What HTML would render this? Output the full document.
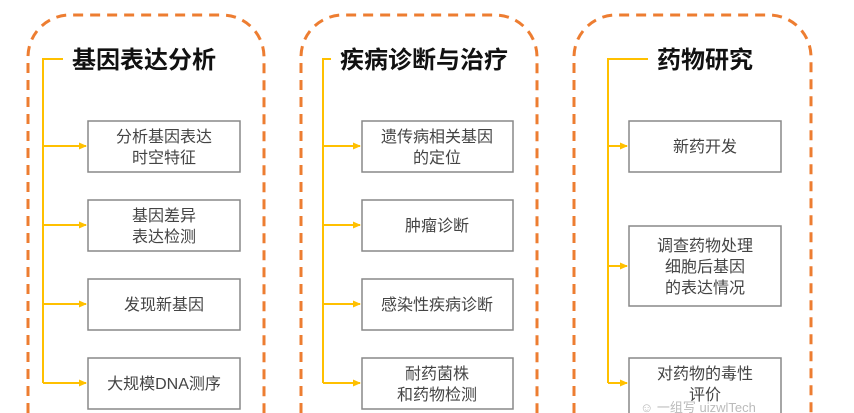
<!DOCTYPE html>
<html><head><meta charset="utf-8"><style>
html,body{margin:0;padding:0;background:#fff;width:854px;height:413px;overflow:hidden}
svg text{font-family:"Liberation Sans","Noto Sans CJK SC",sans-serif}
</style></head><body>
<svg width="854" height="413" viewBox="0 0 854 413" xmlns="http://www.w3.org/2000/svg">
<defs>
<marker id="a" markerWidth="8" markerHeight="8" refX="7" refY="4" orient="auto" markerUnits="userSpaceOnUse"><path d="M0,0.5 L8,4 L0,7.5 z" fill="#FFC000"/></marker>
</defs>
<g fill="none" stroke="#ED7D31" stroke-width="3" stroke-dasharray="10,7">
<path d="M28,430 V57 A42,42 0 0 1 70,15 H222 A42,42 0 0 1 264,57 V430"/>
<path d="M301,430 V57 A42,42 0 0 1 343,15 H495 A42,42 0 0 1 537,57 V430"/>
<path d="M574,430 V57 A42,42 0 0 1 616,15 H769 A42,42 0 0 1 811,57 V430"/>
</g>
<g fill="none" stroke="#FFC000" stroke-width="2">
<path d="M63,59 H43 V383"/>
<path d="M43,146 H86" marker-end="url(#a)"/><path d="M43,225 H86" marker-end="url(#a)"/><path d="M43,304 H86" marker-end="url(#a)"/><path d="M43,383 H86" marker-end="url(#a)"/>
<path d="M331,59 H323 V383"/>
<path d="M323,146 H360" marker-end="url(#a)"/><path d="M323,225 H360" marker-end="url(#a)"/><path d="M323,304 H360" marker-end="url(#a)"/><path d="M323,383 H360" marker-end="url(#a)"/>
<path d="M648,59 H608 V383"/>
<path d="M608,146 H627" marker-end="url(#a)"/><path d="M608,266 H627" marker-end="url(#a)"/><path d="M608,383 H627" marker-end="url(#a)"/>
</g>
<g font-weight="bold" font-size="24" fill="#111">
<text x="72" y="68">基因表达分析</text>
<text x="340" y="68">疾病诊断与治疗</text>
<text x="657" y="68">药物研究</text>
</g>
<g fill="#fff" stroke="#888" stroke-width="1.5">
<rect x="88" y="121" width="152" height="51"/><rect x="88" y="200" width="152" height="51"/><rect x="88" y="279" width="152" height="51"/><rect x="88" y="358" width="152" height="51"/>
<rect x="362" y="121" width="151" height="51"/><rect x="362" y="200" width="151" height="51"/><rect x="362" y="279" width="151" height="51"/><rect x="362" y="358" width="151" height="51"/>
<rect x="629" y="121" width="152" height="51"/><rect x="629" y="226" width="152" height="80"/><rect x="629" y="358" width="152" height="60"/>
</g>
<g font-size="16" fill="#444" text-anchor="middle">
<text x="164" y="142">分析基因表达</text><text x="164" y="163">时空特征</text>
<text x="164" y="221">基因差异</text><text x="164" y="242">表达检测</text>
<text x="164" y="310">发现新基因</text>
<text x="164" y="389">大规模DNA测序</text>
<text x="437" y="142">遗传病相关基因</text><text x="437" y="163">的定位</text>
<text x="437" y="231">肿瘤诊断</text>
<text x="437" y="310">感染性疾病诊断</text>
<text x="437" y="379">耐药菌株</text><text x="437" y="400">和药物检测</text>
<text x="705" y="152">新药开发</text>
<text x="705" y="251">调查药物处理</text><text x="705" y="272">细胞后基因</text><text x="705" y="293">的表达情况</text>
<text x="705" y="379">对药物的毒性</text><text x="705" y="400">评价</text>
</g>
<text x="640" y="412" font-size="13" fill="#bbb">☺ 一组写 uizwlTech</text>
</svg>
</body></html>
